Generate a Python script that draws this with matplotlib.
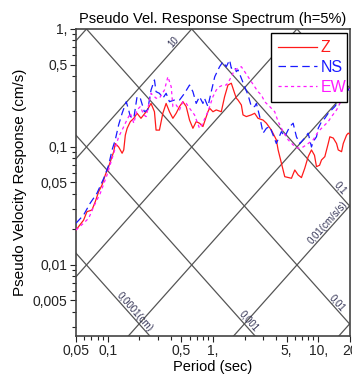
import numpy as np
import matplotlib
matplotlib.use('Agg')
import matplotlib.pyplot as plt
from matplotlib.ticker import LogLocator, NullFormatter

plt.rcParams['font.family'] = ['Liberation Sans', 'DejaVu Sans']

# Z component
z_T = [0.05, 0.059, 0.0635, 0.0708, 0.0762, 0.082, 0.0883, 0.0948, 0.102, 0.114, 0.118, 0.127,
       0.137, 0.142, 0.147, 0.153, 0.164, 0.177, 0.19, 0.207, 0.232, 0.258, 0.278, 0.288, 0.31,
       0.334, 0.359, 0.386, 0.416, 0.447, 0.481, 0.518, 0.557, 0.599, 0.645, 0.693, 0.745, 0.803,
       0.896, 0.929, 1.0, 1.075, 1.2, 1.29, 1.389, 1.494, 1.55, 1.606, 1.667, 1.73, 1.861, 1.93,
       2.075, 2.316, 2.49, 2.68, 2.994, 3.22, 3.59, 4.0, 4.16, 4.81, 5.57, 5.99, 6.45, 6.93, 7.45,
       8.03, 8.63, 9.22, 9.63, 10.3, 10.75, 11.56, 12.45, 12.9, 13.9, 14.94, 15.5, 16.67, 17.3,
       18.6, 19.3, 20.0]
z_sv = [0.0198, 0.024, 0.0283, 0.0292, 0.0344, 0.0418, 0.0476, 0.0579, 0.0681, 0.0912, 0.107, 0.1,
        0.0885, 0.0944, 0.126, 0.144, 0.164, 0.175, 0.193, 0.175, 0.199, 0.234, 0.199, 0.139, 0.139,
        0.193, 0.234, 0.199, 0.175, 0.193, 0.22, 0.242, 0.22, 0.169, 0.144, 0.164, 0.159, 0.149,
        0.199, 0.213, 0.199, 0.206, 0.199, 0.267, 0.335, 0.347, 0.314, 0.285, 0.259, 0.25, 0.227, 0.187,
        0.181, 0.187, 0.193, 0.175, 0.169, 0.159, 0.139, 0.115, 0.0944, 0.056, 0.0543, 0.0638, 0.0579,
        0.055, 0.066, 0.0828, 0.0944, 0.085, 0.0681, 0.07, 0.0776, 0.0828, 0.107, 0.122, 0.119, 0.107,
        0.0944, 0.0912, 0.107, 0.126, 0.131, 0.128]

# NS component
ns_T = [0.05, 0.059, 0.068, 0.079, 0.0917, 0.102, 0.11, 0.118, 0.127, 0.137, 0.15, 0.158, 0.164,
        0.177, 0.19, 0.204, 0.223, 0.24, 0.258, 0.278, 0.288, 0.31, 0.334, 0.359, 0.386, 0.431,
        0.481, 0.537, 0.599, 0.645, 0.693, 0.745, 0.803, 0.83, 0.896, 0.963, 1.04, 1.156, 1.245,
        1.339, 1.439, 1.494, 1.606, 1.667, 1.73, 1.861, 2.0, 2.154, 2.316, 2.49, 2.585, 2.78, 2.994,
        3.22, 3.46, 3.73, 4.0, 4.47, 4.81, 5.37, 5.78, 6.21, 6.68, 7.45, 8.03, 8.63, 8.96, 9.63, 10.0,
        10.75, 11.56, 12.45, 13.39, 14.39, 15.5, 16.67, 18.6, 20.0]
ns_sv = [0.0226, 0.0265, 0.0333, 0.0405, 0.0543, 0.07, 0.0944, 0.115, 0.154, 0.193, 0.242, 0.206, 0.181,
         0.175, 0.267, 0.259, 0.199, 0.206, 0.304, 0.37, 0.294, 0.285, 0.259, 0.285, 0.242, 0.25,
         0.25, 0.285, 0.335, 0.294, 0.234, 0.267, 0.234, 0.259, 0.22, 0.294, 0.394, 0.479, 0.528,
         0.479, 0.546, 0.465, 0.479, 0.435, 0.45, 0.382, 0.324, 0.276, 0.22, 0.22, 0.234, 0.181, 0.131,
         0.144, 0.149, 0.126, 0.107, 0.135, 0.122, 0.149, 0.159, 0.122, 0.107, 0.119, 0.131, 0.1, 0.111,
         0.122, 0.144, 0.164, 0.175, 0.193, 0.206, 0.22, 0.242, 0.259, 0.294, 0.314]

# EW component
ew_T = [0.05, 0.059, 0.066, 0.0736, 0.085, 0.0985, 0.114, 0.127, 0.137, 0.147, 0.164, 0.177, 0.19,
        0.204, 0.22, 0.232, 0.258, 0.288, 0.31, 0.346, 0.373, 0.401, 0.416, 0.447, 0.481, 0.518,
        0.557, 0.599, 0.668, 0.745, 0.77, 0.896, 1.0, 1.075, 1.156, 1.245, 1.339, 1.439, 1.606, 1.73,
        1.861, 2.0, 2.154, 2.316, 2.49, 2.68, 2.884, 3.1, 3.46, 3.86, 4.16, 4.64, 5.18, 5.78, 6.45,
        7.2, 8.03, 8.96, 10.0, 11.16, 12.45, 13.39, 14.94, 16.07, 17.3, 19.3, 20.0]
ew_sv = [0.0198, 0.0226, 0.0249, 0.0312, 0.0405, 0.0579, 0.0885, 0.122, 0.139, 0.159, 0.193, 0.159, 0.206,
         0.22, 0.187, 0.181, 0.285, 0.259, 0.259, 0.304, 0.394, 0.324, 0.22, 0.227, 0.206, 0.242,
         0.234, 0.213, 0.187, 0.144, 0.149, 0.199, 0.267, 0.304, 0.324, 0.335, 0.335, 0.37, 0.45, 0.465,
         0.479, 0.435, 0.394, 0.357, 0.324, 0.294, 0.276, 0.242, 0.22, 0.199, 0.164, 0.135, 0.115, 0.104,
         0.0975, 0.1, 0.107, 0.115, 0.135, 0.149, 0.164, 0.181, 0.206, 0.234, 0.259, 0.294, 0.31]

# tripartite grid: displacement (cm) and acceleration (cm/s/s) decades
sd_lines = [1e-5, 1e-4, 1e-3, 1e-2, 1e-1, 1, 10]
sa_lines = [1e-4, 1e-3, 1e-2, 1e-1, 1, 10, 100, 1000]
# labels on grid lines: (kind, value, text, period where label sits)
grid_labels = [('sa', 10, '10', 0.457),
               ('sa', 0.01, '0,01(cm/s/s)', 13.5),
               ('sd', 0.1, '0,1', 15.0),
               ('sd', 0.01, '0,01', 14.1),
               ('sd', 0.001, '0,001', 2.01),
               ('sd', 0.0001, '0,0001(cm)', 0.167)]

xticks = [0.05, 0.1, 0.5, 1, 5, 10, 20]
xticklabels = ['0,05', '0,1', '0,5', '1,', '5,', '10,', '20']
yticks = [0.005, 0.01, 0.05, 0.1, 0.5, 1]
yticklabels = ['0,005', '0,01', '0,05', '0,1', '0,5', '1,']

fig = plt.figure(figsize=(3.52, 3.79), dpi=100)
ax = fig.add_axes([0.216, 0.1135, 0.778, 0.81])
ax.set_xscale('log')
ax.set_yscale('log')
ax.set_xlim(0.05, 20)
ax.set_ylim(0.0025, 1)

tt = np.array([0.001, 1000.0])
for sd in sd_lines:
    ax.plot(tt, 2 * np.pi * sd / tt, color='#555555', lw=0.9, zorder=1)
for sa in sa_lines:
    ax.plot(tt, sa * tt / (2 * np.pi), color='#555555', lw=0.9, zorder=1)

ax.plot(z_T, z_sv, color='#ff1a1a', lw=0.9, label='Z', zorder=3)
ax.plot(ns_T, ns_sv, color='#1a1aff', lw=0.9, dashes=(6, 3.5), label='NS', zorder=3)
ax.plot(ew_T, ew_sv, color='#ff1aff', lw=0.9, dashes=(2.5, 2.5), label='EW', zorder=3)

for kind, val, txt, tp in grid_labels:
    if kind == 'sd':
        sv = 2 * np.pi * val / tp
        p1 = ax.transData.transform((tp, sv))
        p2 = ax.transData.transform((tp * 2, sv / 2))
    else:
        sv = val * tp / (2 * np.pi)
        p1 = ax.transData.transform((tp, sv))
        p2 = ax.transData.transform((tp * 2, sv * 2))
    ang = np.degrees(np.arctan2(p2[1] - p1[1], p2[0] - p1[0]))
    ax.text(tp, sv, txt, rotation=ang, rotation_mode='anchor', ha='center', va='bottom',
            fontsize=7, color='#333355', zorder=2)

ax.set_xticks(xticks)
ax.set_xticklabels(xticklabels)
ax.set_yticks(yticks)
ax.set_yticklabels(yticklabels)
ax.xaxis.set_minor_locator(LogLocator(base=10, subs=np.arange(2, 10)))
ax.yaxis.set_minor_locator(LogLocator(base=10, subs=np.arange(2, 10)))
ax.xaxis.set_minor_formatter(NullFormatter())
ax.yaxis.set_minor_formatter(NullFormatter())
ax.tick_params(which='major', length=4.5, width=0.8, labelsize=10, pad=1.5, colors='#222222')
ax.tick_params(which='minor', length=2.7, width=0.8, colors='#222222')

for s in ax.spines.values():
    s.set_color('#444444')
    s.set_linewidth(1.2)

ax.set_title('Pseudo Vel. Response Spectrum (h=5%)', fontsize=10.5, pad=4)
ax.set_xlabel('Period (sec)', fontsize=10.5, labelpad=1)
ax.set_ylabel('Pseudo Velocity Response (cm/s)', fontsize=11, labelpad=4)

leg = ax.legend(loc='upper left', bbox_to_anchor=(0.712, 0.775, 0.277, 0.212), mode='expand',
                borderaxespad=0, fontsize=11.5, labelcolor='linecolor', fancybox=False,
                framealpha=1, edgecolor='black', handlelength=2.4, handletextpad=0.25,
                labelspacing=0.3, borderpad=0.45)
leg.get_frame().set_linewidth(1.0)
leg.set_zorder(5)

fig.savefig('out.png', dpi=100)
